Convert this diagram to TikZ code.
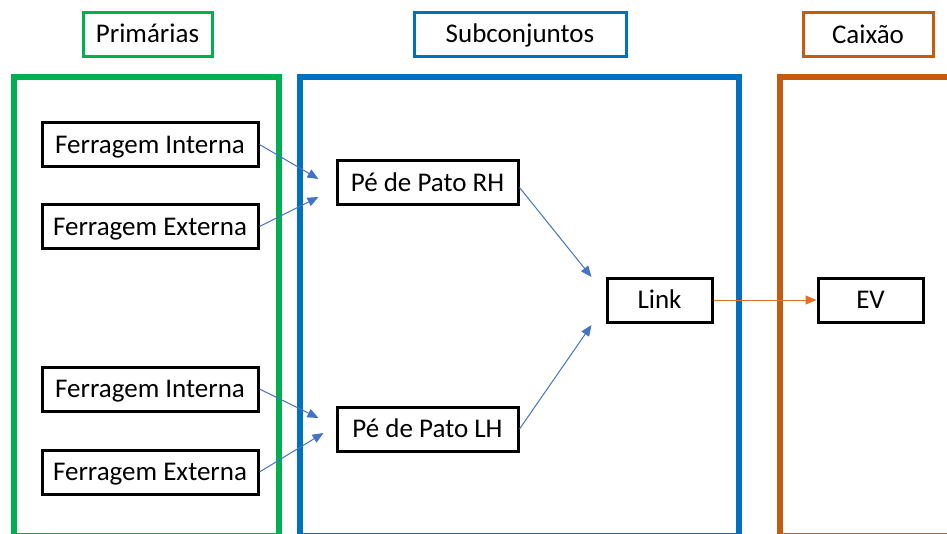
\documentclass[tikz,border=0pt]{standalone}
\usepackage{fontspec}
\setmainfont{Carlito}
\usetikzlibrary{arrows.meta}
\definecolor{verde}{HTML}{00B050}
\definecolor{azul}{HTML}{0070C0}
\definecolor{laranja}{HTML}{C55A11}
\definecolor{azulseta}{HTML}{4472C4}
\definecolor{laranjaseta}{HTML}{E0702A}
\begin{document}
\begin{tikzpicture}[x=1pt,y=-1pt,
                    caixa/.style={draw=black,line width=3pt,inner sep=0pt,minimum height=44pt,text height=20pt,text depth=3pt,font=\fontsize{27}{32}\selectfont},
                    titulo/.style={draw,line width=3pt,inner sep=0pt,minimum height=44pt,text height=20pt,text depth=3pt,font=\fontsize{27}{32}\selectfont},
                    moldura/.style={line width=6pt},
                    seta/.style={draw=azulseta,line width=1pt,-{Triangle[length=11pt,width=9pt]}}]
                    \useasboundingbox (0,0) rectangle (947,533);
                    \begin{scope}
                    \clip (0,0) rectangle (947,533);
                    \draw[moldura,verde] (13.5,77) rectangle (278.5,535.5);
                    \draw[moldura,azul] (299.5,77) rectangle (738.5,535.5);
                    \draw[moldura,laranja] (780,77) rectangle (1000,535.5);
                    \end{scope}
                    
                    \node[titulo,draw=verde,minimum width=129pt] (prim) at (147.5,34) {Primárias};
                    \node[titulo,draw=azul,minimum width=212pt] (sub) at (520,34) {Subconjuntos};
                    \node[titulo,draw=laranja,minimum width=130pt] (cx) at (868,34.5) {Caixão};
                    
                    \node[caixa,minimum width=216pt] (fi1) at (150,144.5) {Ferragem Interna};
                    \node[caixa,minimum width=216pt] (fe1) at (150,226.5) {Ferragem Externa};
                    \node[caixa,minimum width=216pt] (fi2) at (150,389) {Ferragem Interna};
                    \node[caixa,minimum width=216pt] (fe2) at (150,472) {Ferragem Externa};
                    
                    \node[caixa,minimum width=181pt] (rh) at (427.5,182.5) {Pé de Pato RH};
                    \node[caixa,minimum width=181pt] (lh) at (427.5,429) {Pé de Pato LH};
                    \node[caixa,minimum width=105pt] (link) at (659.5,300) {Link};
                    \node[caixa,minimum width=105pt] (ev) at (870.5,300) {EV};
                    
                    \draw[seta] (fi1.east) -- ([xshift=-17pt,yshift=3.5pt]rh.west);
                    \draw[seta] (fe1.east) -- ([xshift=-17pt,yshift=-14.5pt]rh.west);
                    \draw[seta] (fi2.east) -- ([xshift=-17pt,yshift=11pt]lh.west);
                    \draw[seta] (fe2.east) -- ([xshift=-12pt,yshift=-4pt]lh.west);
                    \draw[seta] ([yshift=-5pt]rh.east) -- ([xshift=-14pt,yshift=23pt]link.west);
                    \draw[seta] (lh.east) -- ([xshift=-14pt,yshift=-25pt]link.west);
                    \draw[seta,draw=laranjaseta] (link.east) -- (ev.west);
                \end{tikzpicture}
\end{document}
